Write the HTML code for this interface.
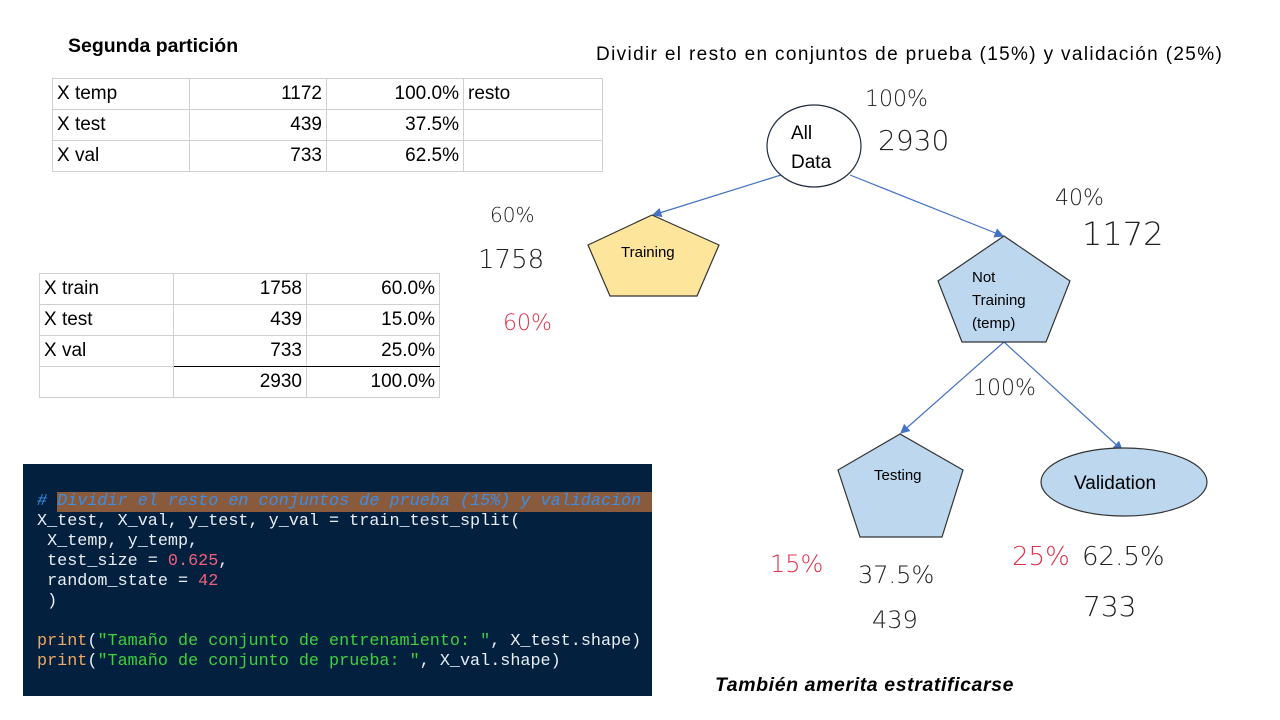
<!DOCTYPE html>
<html><head><meta charset="utf-8"><style>
body{margin:0;width:1280px;height:720px;background:#fff;position:relative;overflow:hidden;font-family:"Liberation Sans",sans-serif}
.t{position:absolute;white-space:nowrap}
table{position:absolute;border-collapse:collapse;font-size:19px;color:#000}
td{border:1px solid #d0d0d0;padding:0 4px;height:30px;line-height:30px}
.r{text-align:right}
#code{position:absolute;left:23px;top:464px;width:629px;height:232px;background:#03213f;font-family:"Liberation Mono",monospace;font-size:16.8px;color:#e8eef4;line-height:20px}
#code pre{margin:0;position:absolute;left:14px;top:28px;font:inherit;white-space:pre}
</style></head><body>
<div class="t" style="left:68px;top:35px;font-size:19.5px;font-weight:bold">Segunda partición</div>
<div class="t" style="left:596px;top:44px;font-size:19px;letter-spacing:1.35px">Dividir el resto en conjuntos de prueba (15%) y validación (25%)</div>

<table style="left:52px;top:78px;width:551px">
<tr><td style="width:128px">X temp</td><td class="r" style="width:128px">1172</td><td class="r" style="width:128px">100.0%</td><td>resto</td></tr>
<tr><td>X test</td><td class="r">439</td><td class="r">37.5%</td><td></td></tr>
<tr><td>X val</td><td class="r">733</td><td class="r">62.5%</td><td></td></tr>
</table>

<table style="left:39px;top:273px;width:401px">
<tr><td style="width:125px">X train</td><td class="r" style="width:124px">1758</td><td class="r">60.0%</td></tr>
<tr><td>X test</td><td class="r">439</td><td class="r">15.0%</td></tr>
<tr><td>X val</td><td class="r" style="border-bottom:1px solid #000">733</td><td class="r" style="border-bottom:1px solid #000">25.0%</td></tr>
<tr><td></td><td class="r">2930</td><td class="r">100.0%</td></tr>
</table>

<div id="code"><div style="position:absolute;left:34px;top:28px;width:595px;height:20px;background:#8a5a3c"></div><pre><span style="color:#3b8ee6;font-style:italic"># Dividir el resto en conjuntos de prueba (15%) y validación</span>
X_test, X_val, y_test, y_val = train_test_split(
 X_temp, y_temp,
 test_size = <span style="color:#f0607a">0.625</span>,
 random_state = <span style="color:#f0607a">42</span>
 )

<span style="color:#f0a860">print</span>(<span style="color:#3ecf3e">"Tamaño de conjunto de entrenamiento: "</span>, X_test.shape)
<span style="color:#f0a860">print</span>(<span style="color:#3ecf3e">"Tamaño de conjunto de prueba: "</span>, X_val.shape)</pre></div>

<svg width="1280" height="720" style="position:absolute;left:0;top:0">
<defs><marker id="a" markerWidth="8" markerHeight="8" refX="7" refY="4" orient="auto"><path d="M0,0 L8,4 L0,8z" fill="#4472c4"/></marker></defs>
<g stroke="#4472c4" stroke-width="1.2" marker-end="url(#a)">
<line x1="781" y1="175" x2="653" y2="215"/>
<line x1="850" y1="175" x2="1003" y2="236"/>
<line x1="1004" y1="342" x2="901" y2="433"/>
<line x1="1004" y1="342" x2="1122" y2="450"/>
</g>
<ellipse cx="814" cy="146" rx="47" ry="41" fill="#fff" stroke="#1f2d3d" stroke-width="1.2"/>
<polygon points="652,215 588,245 610,296 697,296 719,245" fill="#fee59c" stroke="#333" stroke-width="1.2"/>
<polygon points="1004,236 938,281 962,342 1046,342 1070,281" fill="#bdd7ee" stroke="#333" stroke-width="1.2"/>
<polygon points="900,434 838,470 860,537 942,537 963,470" fill="#bdd7ee" stroke="#333" stroke-width="1.2"/>
<ellipse cx="1124" cy="482" rx="83" ry="34" fill="#bdd7ee" stroke="#333" stroke-width="1.2"/>
<g font-family="Liberation Sans, sans-serif" fill="#000">
<text x="791" y="139" font-size="19">All</text>
<text x="791" y="168" font-size="19">Data</text>
<text x="621" y="257" font-size="15">Training</text>
<text x="972" y="282" font-size="15">Not</text>
<text x="972" y="305" font-size="15">Training</text>
<text x="972" y="328" font-size="15">(temp)</text>
<text x="874" y="480" font-size="15">Testing</text>
<text x="1074" y="489" font-size="19">Validation</text>
<text x="715" y="691" font-size="19.5" font-weight="bold" font-style="italic" letter-spacing="0.6">También amerita estratificarse</text>
</g>
<g font-family="DejaVu Sans, sans-serif" fill="#222" font-weight="200">
<text x="865" y="106" font-size="22">100%</text>
<text x="878" y="150" font-size="28">2930</text>
<text x="490" y="222" font-size="20">60%</text>
<text x="478" y="268" font-size="26">1758</text>
<text x="1055" y="205" font-size="22">40%</text>
<text x="1082" y="245" font-size="32">1172</text>
<text x="973" y="395" font-size="22">100%</text>
<text x="858" y="583" font-size="24">37.5%</text>
<text x="872" y="628" font-size="24">439</text>
<text x="1082" y="565" font-size="26">62.5%</text>
<text x="1083" y="616" font-size="28">733</text>
<g fill="#e0304a">
<text x="503" y="330" font-size="22">60%</text>
<text x="770" y="572" font-size="24">15%</text>
<text x="1012" y="565" font-size="26">25%</text>
</g>
</g>
</svg>
</body></html>
